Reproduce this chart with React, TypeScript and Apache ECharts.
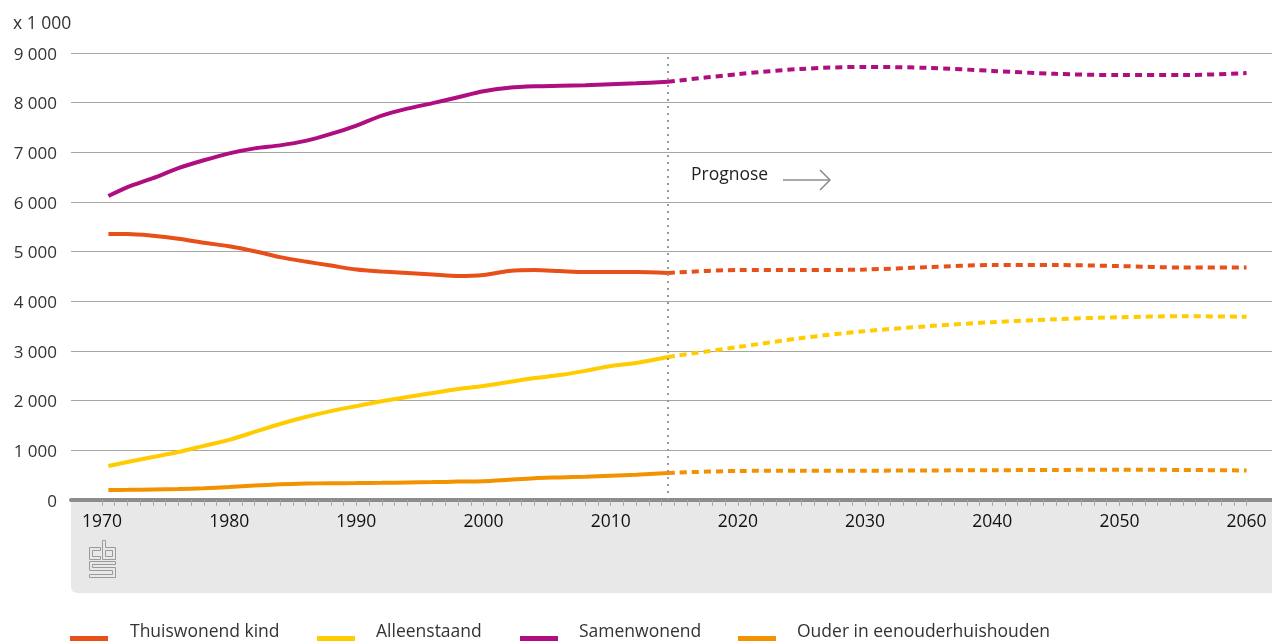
import React, { useEffect, useRef } from "react";
import * as echarts from "echarts";

const seriesNames = ["Thuiswonend kind", "Alleenstaand", "Samenwonend", "Ouder in eenouderhuishouden"];
const seriesColors = ["#e8501a", "#ffcc00", "#af0e80", "#f39200"];

// observed period
const yearsObs = [1970.5, 1972, 1974, 1976, 1978, 1980, 1982, 1984, 1986, 1988, 1990, 1992, 1994, 1996, 1998, 2000, 2002, 2004, 2006, 2008, 2010, 2012, 2014.5];
const kindObs = [5355, 5355, 5320, 5260, 5180, 5110, 5010, 4890, 4800, 4720, 4640, 4600, 4570, 4540, 4510, 4530, 4610, 4630, 4610, 4590, 4590, 4590, 4570];
const alleenObs = [685, 765, 865, 965, 1090, 1210, 1370, 1530, 1670, 1790, 1890, 1990, 2075, 2155, 2235, 2295, 2375, 2455, 2515, 2600, 2700, 2760, 2880];
const samenObs = [6120, 6300, 6480, 6680, 6840, 6980, 7080, 7140, 7230, 7370, 7540, 7740, 7880, 7990, 8110, 8230, 8300, 8330, 8340, 8350, 8370, 8390, 8420];
const ouderObs = [200, 205, 212, 220, 235, 260, 290, 315, 330, 338, 340, 345, 352, 360, 370, 380, 410, 440, 455, 470, 490, 510, 545];

// forecast period
const yearsProg = [2014.5, 2020, 2025, 2030, 2035, 2040, 2045, 2050, 2055, 2060];
const kindProg = [4570, 4630, 4630, 4640, 4690, 4730, 4730, 4710, 4680, 4680];
const alleenProg = [2880, 3080, 3260, 3400, 3500, 3580, 3640, 3680, 3700, 3690];
const samenProg = [8420, 8575, 8680, 8720, 8700, 8640, 8580, 8555, 8555, 8595];
const ouderProg = [545, 585, 588, 590, 595, 600, 605, 610, 605, 595];

const tickYears = [1970, 1971, 1972, 1973, 1974, 1975, 1976, 1977, 1978, 1979, 1980, 1981, 1982, 1983, 1984, 1985, 1986, 1987, 1988, 1989, 1990, 1991, 1992, 1993, 1994, 1995, 1996, 1997, 1998, 1999, 2000, 2001, 2002, 2003, 2004, 2005, 2006, 2007, 2008, 2009, 2010, 2011, 2012, 2013, 2014, 2015, 2016, 2017, 2018, 2019, 2020, 2021, 2022, 2023, 2024, 2025, 2026, 2027, 2028, 2029, 2030, 2031, 2032, 2033, 2034, 2035, 2036, 2037, 2038, 2039, 2040, 2041, 2042, 2043, 2044, 2045, 2046, 2047, 2048, 2049, 2050, 2051, 2052, 2053, 2054, 2055, 2056, 2057, 2058, 2059, 2060];
const labelYears = [1970, 1980, 1990, 2000, 2010, 2020, 2030, 2040, 2050, 2060];
const prognoseStart = 2014.5;

const FONT = "'Open Sans', 'Noto Sans', sans-serif";

const pair = (xs: number[], ys: number[]) => xs.map((x, i) => [x, ys[i]]);
const fmt = (v: number) => String(v).replace(/\B(?=(\d{3})+(?!\d))/g, " ");

const LOGO_D =
  "M11 7 H0 V19 H11 V16 H3 V10 H11 Z " +
  "M13 0 H16 V7 H26 V19 H13 Z M16 10 H23 V16 H16 Z " +
  "M0 21 H26 V24 H3 V27 H26 V37 H0 V34 H23 V30 H0 Z";

let logoRegistered = false;

export default function App() {
  const ref = useRef<HTMLDivElement>(null);
  useEffect(() => {
    if (!ref.current) return;
    if (!logoRegistered) {
      echarts.graphic.registerShape("logo", echarts.graphic.extendPath(LOGO_D, {}) as any);
      logoRegistered = true;
    }
    const chart = echarts.init(ref.current, null, { renderer: "svg" });
    const obs = [kindObs, alleenObs, samenObs, ouderObs];
    const prog = [kindProg, alleenProg, samenProg, ouderProg];
    const series: any[] = [];
    obs.forEach((d, i) => {
      series.push({
        name: seriesNames[i],
        type: "line",
        data: pair(yearsObs, d),
        smooth: 0.3,
        symbol: "none",
        lineStyle: { color: seriesColors[i], width: 4 },
        itemStyle: { color: seriesColors[i] },
        z: 3,
        markLine:
          i === 0
            ? {
                silent: true,
                symbol: "none",
                label: { show: false },
                lineStyle: { color: "#999", type: [2, 5], width: 2 },
                data: [{ xAxis: prognoseStart }],
              }
            : undefined,
      });
    });
    prog.forEach((d, i) => {
      series.push({
        name: seriesNames[i] + " prognose",
        type: "line",
        data: pair(yearsProg, d),
        smooth: 0.3,
        symbol: "none",
        lineStyle: { color: seriesColors[i], width: 4, type: [7, 5] },
        itemStyle: { color: seriesColors[i] },
        z: 3,
      });
    });

    const legendX = [
      [70, 130],
      [317, 376],
      [520, 579],
      [738, 797],
    ];
    const legendEls: any[] = [];
    seriesNames.forEach((n, i) => {
      legendEls.push({
        type: "rect",
        shape: { x: legendX[i][0], y: 636, width: 38, height: 5 },
        style: { fill: seriesColors[i] },
      });
      legendEls.push({
        type: "text",
        x: legendX[i][1],
        y: 630,
        style: {
          text: n,
          font: `17.5px ${FONT}`,
          lineHeight: 20,
          fill: "#333",
          verticalAlign: "middle",
          textVerticalAlign: "middle",
        },
      });
    });

    chart.setOption({
      animation: false,
      grid: { left: 71, right: 0, top: 53, bottom: 141, containLabel: false },
      xAxis: {
        type: "value",
        min: 1967.56,
        max: 2062,
        axisLine: { show: true, lineStyle: { color: "#8c8c8c", width: 4 } },
        axisTick: { show: true, customValues: tickYears, length: 6, lineStyle: { color: "#a8a8a8", width: 1 } },
        axisLabel: {
          customValues: labelYears,
          color: "#111",
          fontSize: 17.5,
          fontFamily: FONT,
          margin: 11,
          formatter: (v: number) => String(v),
        },
        splitLine: { show: false },
      },
      yAxis: {
        type: "value",
        min: 0,
        max: 9000,
        interval: 1000,
        axisLine: { show: false },
        axisTick: { show: false },
        axisLabel: { color: "#333", fontSize: 17, fontFamily: FONT, margin: 14, formatter: (v: number) => fmt(v) },
        splitLine: { lineStyle: { color: "#a6a6a6", width: 1 } },
      },
      graphic: [
        {
          type: "rect",
          z: -10,
          shape: { x: 71, y: 500, width: 1201, height: 93, r: [0, 0, 0, 6] },
          style: { fill: "#e8e8e8" },
        },
        {
          type: "logo",
          x: 89.5,
          y: 540.5,
          z: -5,
          style: { fill: "none", stroke: "#9a9a9a", lineWidth: 1 },
        },
        {
          type: "text",
          x: 13,
          y: 22,
          style: { text: "x 1 000", font: `17.5px ${FONT}`, fill: "#333", verticalAlign: "middle", textVerticalAlign: "middle" },
        },
        {
          type: "text",
          x: 691,
          y: 173,
          style: { text: "Prognose", font: `17.5px ${FONT}`, fill: "#222", verticalAlign: "middle", textVerticalAlign: "middle" },
        },
        {
          type: "line",
          shape: { x1: 783, y1: 180, x2: 830, y2: 180 },
          style: { stroke: "#8c8c8c", lineWidth: 1.5 },
        },
        {
          type: "polyline",
          shape: { points: [[820, 170], [830, 180], [820, 190]] },
          style: { stroke: "#8c8c8c", lineWidth: 1.5, fill: "none" },
        },
        ...legendEls,
      ],
      series,
    });
    return () => chart.dispose();
  }, []);
  return <div ref={ref} style={{ position: "fixed", left: 0, top: 0, width: 1272, height: 641 }} />;
}
